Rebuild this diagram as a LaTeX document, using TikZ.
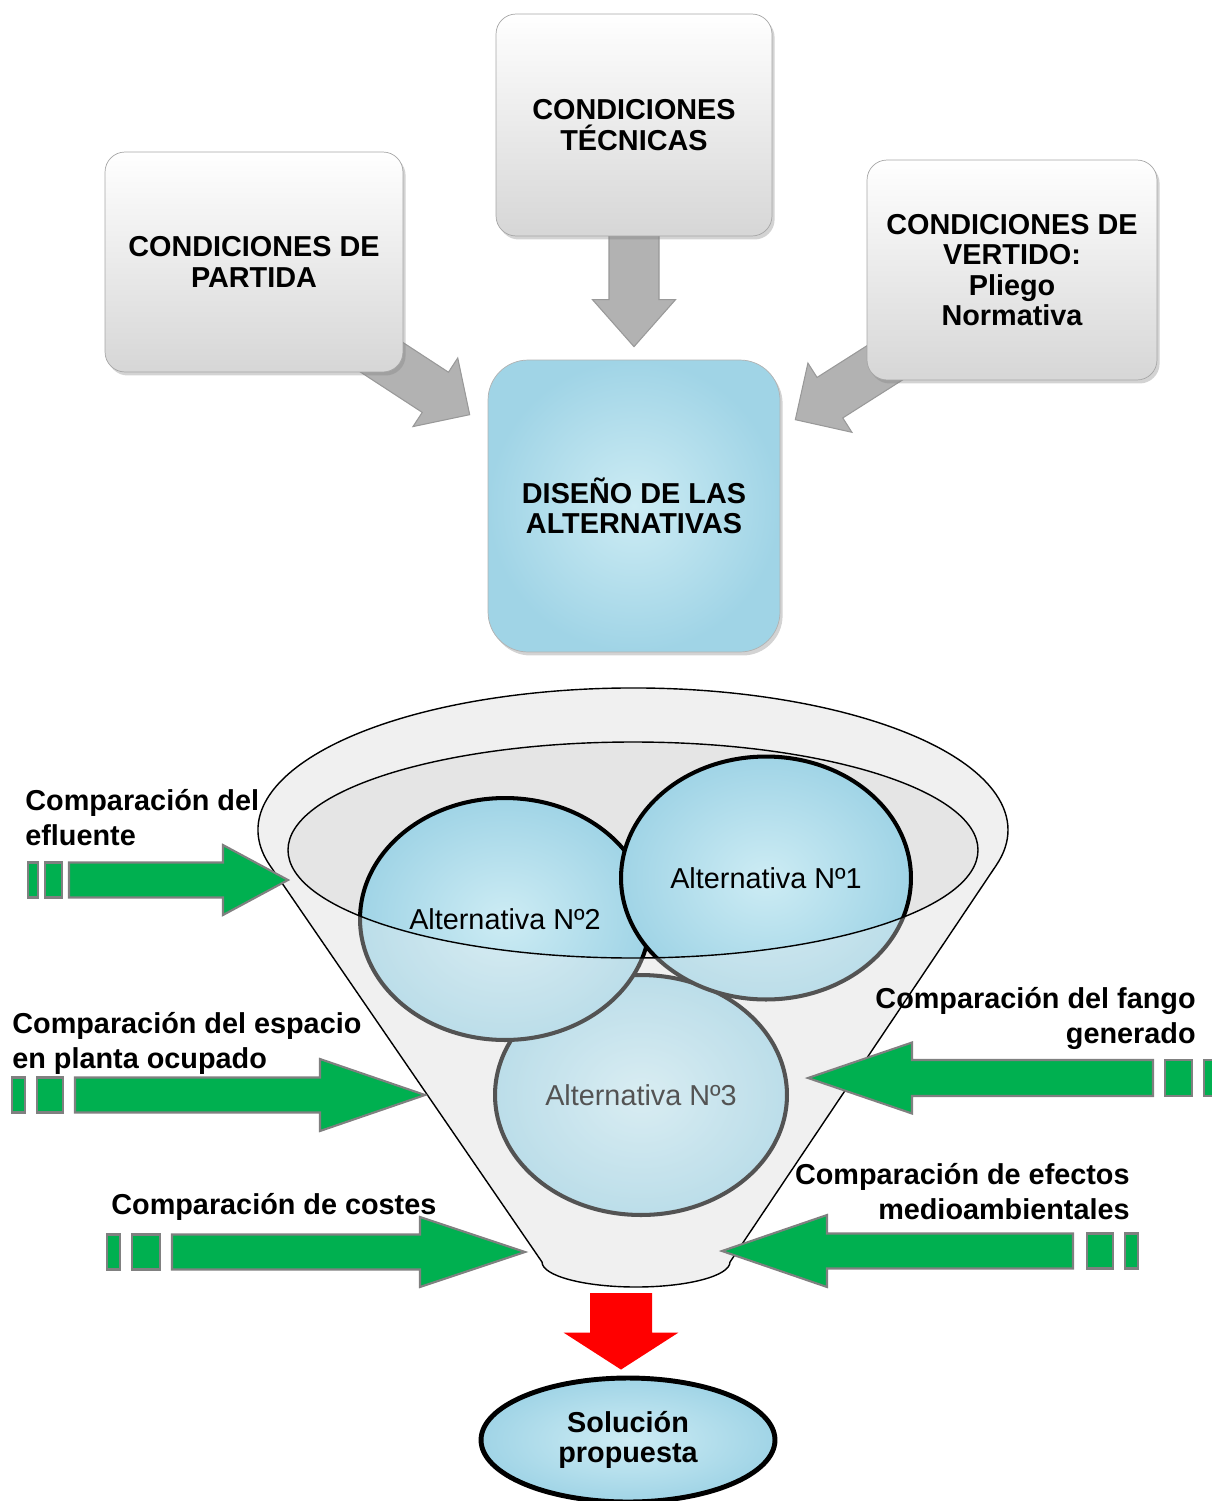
\documentclass[tikz,border=0pt]{standalone}
\usepackage{fontspec}
\setmainfont{Liberation Sans}
\usetikzlibrary{positioning,calc,shapes.geometric,shadows,backgrounds}

\definecolor{water}{RGB}{160,212,230}
\definecolor{waterlt}{RGB}{205,236,244}
\definecolor{greenarr}{RGB}{0,176,80}
\definecolor{funnelbg}{RGB}{240,240,240}
\definecolor{funnelin}{RGB}{229,229,229}

% block arrow: [style]{tail}{tip}{shaft half width}{head half width}{head length}
\newcommand{\blockarrow}[6][]{%
  \coordinate (ba-h) at ($(#3)!#6!(#2)$);
  \path[#1] ($(#2)!#4!90:(#3)$) -- ($(ba-h)!#4!90:(#3)$) -- ($(ba-h)!#5!90:(#3)$) -- (#3)
    -- ($(ba-h)!#5!-90:(#3)$) -- ($(ba-h)!#4!-90:(#3)$) -- ($(#2)!#4!-90:(#3)$) -- cycle;}

\newcommand{\funnelshape}{(270.1,-865.7) arc[start angle=194.57,end angle=-14.4,x radius=375,y radius=142]
  -- (730,-1262) arc[start angle=0,end angle=-180,x radius=94,y radius=25] -- cycle}

\begin{document}
\begin{tikzpicture}[
  x=0.02cm,y=0.02cm,
  font=\fontsize{16.4pt}{17.3pt}\selectfont,
  gbox/.style={draw=gray!70,rounded corners=0.4cm,top color=white,bottom color=gray!32,
               drop shadow={opacity=0.35,shadow xshift=1.5pt,shadow yshift=-2pt},
               align=center,font=\bfseries\fontsize{16.4pt}{17.3pt}\selectfont,inner sep=0pt},
  wbox/.style={gbox,draw=gray!60,rounded corners=0.8cm,inner color=waterlt,outer color=water},
  alt/.style={ellipse,draw=black,line width=2.3pt,inner color=waterlt,outer color=water,
              inner sep=0pt,font=\fontsize{16.4pt}{17.3pt}\selectfont},
  garrow/.style={fill=gray!60,draw=gray!80,line width=0.6pt},
  grarrow/.style={fill=greenarr,draw=gray,line width=1.2pt},
  stripe/.style={fill=greenarr,draw=gray,line width=1.2pt},
  redarrow/.style={fill=red},
  funnel/.style={fill=funnelbg},
  fline/.style={draw=black,line width=0.8pt},
  lab/.style={font=\bfseries\fontsize{16.4pt}{19.8pt}\selectfont,inner sep=0pt}
]
\useasboundingbox (0,0) rectangle (1211,-1501);

% ---- condition boxes ----
\node[gbox,minimum width=5.96cm,minimum height=4.4cm] (par) at (254,-262) {CONDICIONES DE\\PARTIDA};
\node[gbox,minimum width=5.52cm,minimum height=4.44cm] (tec) at (634,-125) {CONDICIONES\\TÉCNICAS};
\node[gbox,minimum width=5.8cm,minimum height=4.4cm] (ver) at (1012,-270) {CONDICIONES DE\\VERTIDO:\\Pliego\\Normativa};
\node[wbox,minimum width=5.84cm,minimum height=5.84cm] (dis) at (634,-506) {DISEÑO DE LAS\\ALTERNATIVAS};

% ---- gray arrows into the design box ----
\begin{scope}[on background layer]
\coordinate (parT) at ($(par.south east)+(-43,29)$);
\coordinate (parH) at ($(dis.north west)+(-18,-55)$);
\coordinate (tecT) at (tec.center);
\coordinate (tecH) at ($(dis.north)+(0,13)$);
\coordinate (verT) at ($(ver.south west)+(33,27)$);
\coordinate (verH) at ($(dis.north east)+(15,-60)$);
\blockarrow[garrow]{parT}{parH}{0.48cm}{0.82cm}{0.82cm}
\blockarrow[garrow]{tecT}{tecH}{0.5cm}{0.83cm}{0.94cm}
\blockarrow[garrow]{verT}{verH}{0.48cm}{0.82cm}{0.82cm}
\end{scope}

% ---- funnel ----
\path[funnel] \funnelshape;
\path[fill=funnelin] (633,-850) ellipse[x radius=345,y radius=108];

\node[alt,minimum width=5.84cm,minimum height=4.8cm] (alt3) at (641,-1095) {Alternativa Nº3};
\node[alt,minimum width=5.8cm,minimum height=4.84cm] (alt2) at (505,-919) {Alternativa Nº2};
\node[alt,minimum width=5.8cm,minimum height=4.86cm] (alt1) at (766,-878) {Alternativa Nº1};

% front of the funnel, half see-through
\fill[funnelbg,fill opacity=0.35,even odd rule] \funnelshape (633,-850) ellipse[x radius=345,y radius=108];
\path[fline] \funnelshape;
\path[fline] (633,-850) ellipse[x radius=345,y radius=108];

% ---- comparison arrows ----
\coordinate (effT) at (69,-880);   \coordinate (effH) at (288,-880);
\coordinate (espT) at (75,-1095);  \coordinate (espH) at (425,-1095);
\coordinate (cosT) at (172,-1252); \coordinate (cosH) at (525,-1252);
\coordinate (fanT) at (1153,-1078); \coordinate (fanH) at (808,-1078);
\coordinate (efeT) at (1073,-1251); \coordinate (efeH) at (722,-1251);

\blockarrow[grarrow]{effT}{effH}{0.35cm}{0.7cm}{1.3cm}
\draw[stripe] (28,-862.5) rectangle (38,-897.5);
\draw[stripe] (45,-862.5) rectangle (62,-897.5);

\blockarrow[grarrow]{espT}{espH}{0.35cm}{0.72cm}{2.1cm}
\draw[stripe] (12,-1077.5) rectangle (25,-1112.5);
\draw[stripe] (37,-1077.5) rectangle (63,-1112.5);

\blockarrow[grarrow]{cosT}{cosH}{0.35cm}{0.7cm}{2.1cm}
\draw[stripe] (107,-1234.5) rectangle (120,-1269.5);
\draw[stripe] (132,-1234.5) rectangle (160,-1269.5);

\blockarrow[grarrow]{fanT}{fanH}{0.36cm}{0.71cm}{2.08cm}
\draw[stripe] (1165,-1060) rectangle (1192,-1096);
\draw[stripe] (1204,-1060) rectangle (1216,-1096);

\blockarrow[grarrow]{efeT}{efeH}{0.35cm}{0.72cm}{2.1cm}
\draw[stripe] (1087,-1233.5) rectangle (1113,-1268.5);
\draw[stripe] (1125,-1233.5) rectangle (1138,-1268.5);

\node[lab,align=left,anchor=north west] (l-eff) at (25,-789) {Comparación del\\efluente};
\node[lab,align=left,anchor=north west] (l-esp) at (12,-1012) {Comparación del espacio\\en planta ocupado};
\node[lab,anchor=north west] (l-cos) at (111,-1193) {Comparación de costes};
\node[lab,align=right,anchor=north east] (l-fan) at (1196,-987) {Comparación del fango\\generado};
\node[lab,align=right,anchor=north east] (l-efe) at (1130,-1163) {Comparación de efectos\\medioambientales};

% ---- result ----
\node[ellipse,draw=black,line width=2.8pt,inner color=waterlt,outer color=water,
      minimum width=5.88cm,minimum height=2.48cm,inner sep=0pt,align=center,
      font=\bfseries\fontsize{16.4pt}{17.3pt}\selectfont] (sol) at (628,-1440) {Solución\\propuesta};
\coordinate (solT) at (621,-1293);
\coordinate (solH) at ($(sol.north)+(-7,6)$);
\blockarrow[redarrow]{solT}{solH}{0.62cm}{1.15cm}{0.74cm}

\end{tikzpicture}
\end{document}
